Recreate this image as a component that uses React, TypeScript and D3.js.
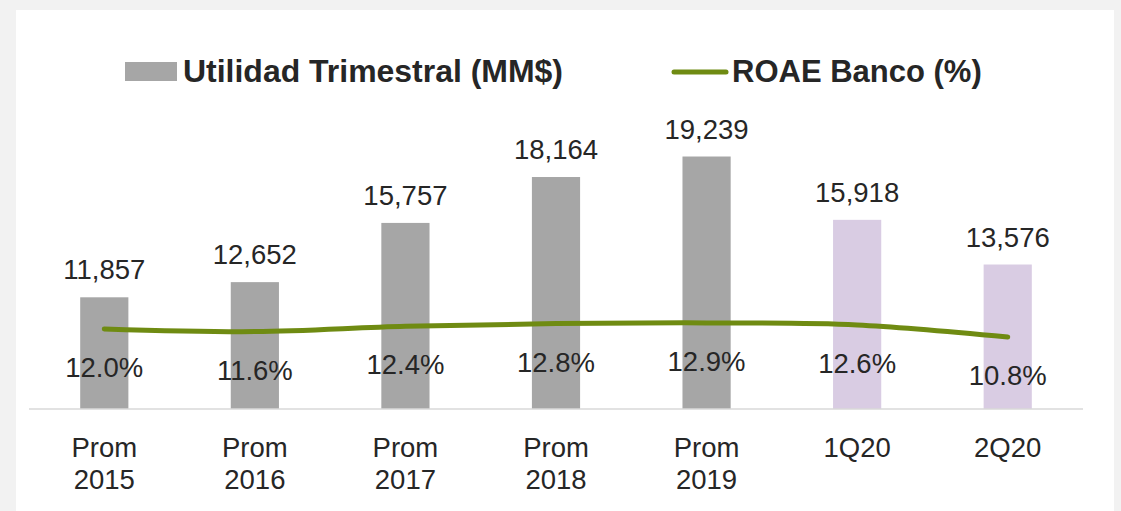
import React from 'react';
import * as d3 from 'd3';

const categories = [['Prom', '2015'], ['Prom', '2016'], ['Prom', '2017'], ['Prom', '2018'], ['Prom', '2019'], ['1Q20'], ['2Q20']];
const utilidad = [11857, 12652, 15757, 18164, 19239, 15918, 13576];
const roae = [12.0, 11.6, 12.4, 12.8, 12.9, 12.6, 10.8];
const quarterly = [false, false, false, false, false, true, true];
const legendLabels = ['Utilidad Trimestral (MM$)', 'ROAE Banco (%)'];

const W = 1121;
const H = 511;
const FONT = '"Liberation Sans", Arial, sans-serif';
const TEXT = '#262626';
const GREEN = '#6f8b12';
const GRAY = '#a6a6a6';
const LILAC = '#d9cce3';

export default function App() {
  const keys = categories.map((c) => c.join(' '));
  const x = d3.scaleBand<string>().domain(keys).range([29, 1083]).paddingInner(0.68).paddingOuter(0.34);
  const y = d3.scaleLinear().domain([6000, 20000]).range([409, 142]);
  const y2 = d3.scaleLinear().domain([0, 40]).range([409, 142]);
  const cx = (i: number) => (x(keys[i]) ?? 0) + x.bandwidth() / 2;

  const line = d3
    .line<number>()
    .x((_, i) => cx(i))
    .y((d) => y2(d))
    .curve(d3.curveCardinal);

  const fmt = d3.format(',');

  return (
    <div style={{ position: 'absolute', left: 0, top: 0 }}>
      <svg width={W} height={H} style={{ display: 'block', fontFamily: FONT }}>
        <rect x={0} y={0} width={W} height={H} fill="#f2f2f2" />
        <rect x={16} y={10} width={1098} height={H} fill="#ffffff" />

        {/* legend */}
        <rect x={125} y={62} width={52} height={19} fill={GRAY} />
        <text x={183} y={82} fontSize={31} fontWeight="bold" fill={TEXT} textLength={380} lengthAdjust="spacingAndGlyphs">
          {legendLabels[0]}
        </text>
        <line x1={674} x2={726} y1={72} y2={72} stroke={GREEN} strokeWidth={5} strokeLinecap="round" />
        <text x={732} y={82} fontSize={31} fontWeight="bold" fill={TEXT}>{legendLabels[1]}</text>

        {/* bars */}
        {utilidad.map((v, i) => (
          <rect
            key={keys[i]}
            x={x(keys[i])}
            y={y(v)}
            width={x.bandwidth()}
            height={y(6000) - y(v)}
            fill={quarterly[i] ? LILAC : GRAY}
          />
        ))}

        <line x1={29} x2={1083} y1={409} y2={409} stroke="#d9d9d9" strokeWidth={1.5} />

        {utilidad.map((v, i) => (
          <text key={'v' + i} x={cx(i)} y={y(v) - 18} textAnchor="middle" fontSize={27.5} fill={TEXT}>
            {fmt(v)}
          </text>
        ))}

        <path d={line(roae) ?? ''} fill="none" stroke={GREEN} strokeWidth={5} strokeLinecap="round" />

        {roae.map((v, i) => (
          <text key={'p' + i} x={cx(i)} y={y2(v) + 48} textAnchor="middle" fontSize={27.5} fill={TEXT}>
            {v.toFixed(1)}%
          </text>
        ))}

        {categories.map((c, i) => (
          <text key={'c' + i} x={cx(i)} y={457} textAnchor="middle" fontSize={27.5} fill={TEXT}>
            {c.map((t, j) => (
              <tspan key={j} x={cx(i)} dy={j === 0 ? 0 : 32}>{t}</tspan>
            ))}
          </text>
        ))}
      </svg>
    </div>
  );
}
